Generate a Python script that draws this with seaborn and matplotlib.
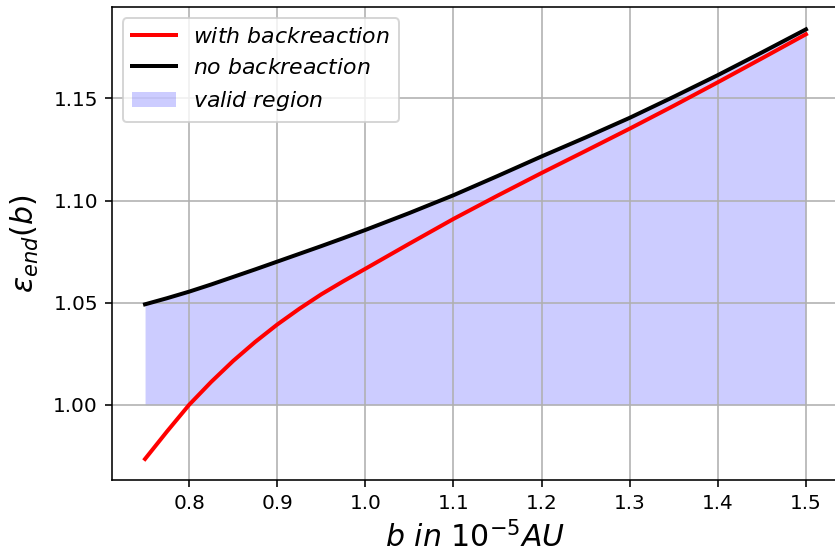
import numpy as np
import pandas as pd
import matplotlib
matplotlib.use("Agg")
import matplotlib.pyplot as plt
import seaborn as sns

# Data
b_values = [0.75, 0.775, 0.80, 0.825, 0.85, 0.875, 0.90, 0.925, 0.95, 0.975,
            1.00, 1.05, 1.10, 1.15, 1.20, 1.25, 1.30, 1.35, 1.40, 1.45, 1.50]
eps_with_backreaction = [0.9735, 0.9870, 1.0000, 1.0112, 1.0215, 1.0308, 1.0393,
                         1.0470, 1.0541, 1.0605, 1.0666, 1.0789, 1.0910, 1.1024,
                         1.1135, 1.1243, 1.1352, 1.1464, 1.1579, 1.1696, 1.1814]
eps_no_backreaction = [1.0492, 1.0522, 1.0554, 1.0589, 1.0626, 1.0663, 1.0701,
                       1.0739, 1.0777, 1.0816, 1.0856, 1.0939, 1.1026, 1.1120,
                       1.1216, 1.1309, 1.1405, 1.1508, 1.1614, 1.1725, 1.1838]
valid_floor = 1.0

labels = {
    "with": r"$with\ backreaction$",
    "no": r"$no\ backreaction$",
    "valid": r"$valid\ region$",
}

df = pd.DataFrame({
    "b": b_values,
    "with": eps_with_backreaction,
    "no": eps_no_backreaction,
})

fig = plt.figure(figsize=(835 / 144, 555 / 144), dpi=144)
ax = fig.add_axes([112 / 835, 75 / 555, (839 - 112) / 835, (480 - 7.3) / 555])

sns.lineplot(data=df, x="b", y="with", ax=ax, color="red", lw=2,
             label=labels["with"])
sns.lineplot(data=df, x="b", y="no", ax=ax, color="black", lw=2,
             label=labels["no"])
ax.fill_between(df["b"], valid_floor, df["no"], color="blue", alpha=0.2,
                lw=0, label=labels["valid"])

ax.set_xlim(0.7125, 1.5375)
ax.set_ylim(0.9632, 1.1946)
ax.set_xticks([0.8, 0.9, 1.0, 1.1, 1.2, 1.3, 1.4, 1.5])
ax.set_yticks([1.00, 1.05, 1.10, 1.15])
ax.set_xticklabels(["0.8", "0.9", "1.0", "1.1", "1.2", "1.3", "1.4", "1.5"])
ax.set_yticklabels(["1.00", "1.05", "1.10", "1.15"])
ax.tick_params(labelsize=10)
ax.grid(True, color="#b0b0b0", lw=0.8)

ax.set_xlabel(r"$b\ in\ 10^{-5}AU$", fontsize=15, labelpad=4)
ax.set_ylabel(r"$\varepsilon_{end}(b)$", fontsize=15, labelpad=6)

ax.legend(loc="upper left", fontsize=11, framealpha=0.8)

fig.savefig("out.png", dpi=144)
